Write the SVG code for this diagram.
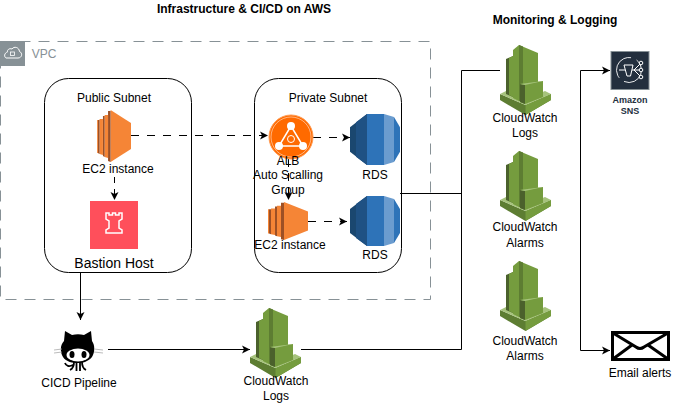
<svg xmlns="http://www.w3.org/2000/svg" xmlns:xlink="http://www.w3.org/1999/xlink" width="681" height="404" viewBox="0 0 681 404">
<style>
text{font-family:"Liberation Sans",Arial,sans-serif;font-size:12px;fill:#000;text-anchor:middle}
.b{font-weight:bold}
.line{fill:none;stroke:#000;stroke-width:1}
.dash{stroke-dasharray:8 8}
.sub{fill:#fff;stroke:#000;stroke-width:1}
</style>
<defs>
<marker id="arr" markerWidth="10" markerHeight="10" refX="8" refY="5" orient="auto" markerUnits="userSpaceOnUse"><path d="M0,1 L8,5 L0,9 L2,5 Z" fill="#000"/></marker>
<symbol id="cw" viewBox="0 0 51 70" preserveAspectRatio="none">
<path d="M0 49 L25.500 60 L51 49 V55 L25.500 70 L0 55Z" fill="#5d7d32"/>
<path d="M25.500 60 L51 49 V55 L25.500 70Z" fill="#759c3e"/>
<path d="M0 49 L6 46 L25.500 54 L45 46 L51 49 L25.500 60Z" fill="#a6c37c"/>
<path d="M6 14 L13 11 V52 L6 49Z" fill="#4b612c"/>
<path d="M9 13 L13 11 V52 L9 50Z" fill="#759c3e"/>
<path d="M13 5 L19 0 V56 L13 53Z" fill="#759c3e"/>
<path d="M19 0 L38 8 V38 L19 42Z" fill="#759c3e"/>
<path d="M13 5 L19 0 V20 L13 22Z" fill="#4b612c" opacity="0"/>
<path d="M19 0 V56 L23 56 V1.500Z" fill="#5d7d32"/>
<path d="M20 39 L43 36 V52 L25 59 L20 57Z" fill="#759c3e"/>
<path d="M20 39 L25 40 V59 L20 57Z" fill="#4b612c"/>
<path d="M25 40 L43 36 L20 39Z" fill="#a6c37c"/>
</symbol>
<symbol id="rds" viewBox="0 0 50 50" preserveAspectRatio="none">
<path d="M0 13 L17 0 V50 L0 37Z" fill="#1a476f"/>
<path d="M6 8 L17 0 V50 L6 42Z" fill="#1f5183"/>
<path d="M17 0 H34 V50 H17Z" fill="#2e73b8"/>
<path d="M34 0 L44 3 V47 L34 50Z" fill="#6b9ccf"/>
<path d="M44 3 L50 13 V37 L44 47Z" fill="#2e73b8"/>
</symbol>
<symbol id="ec2" viewBox="0 0 40 52" preserveAspectRatio="none">
<path d="M16 0 L40 13 V39 L16 52Z" fill="#f58536"/>
<path d="M13 1 H16 V52 L13 51Z" fill="#9d5025"/>
<path d="M9 5 H13 V48 L9 47Z" fill="#f58536"/>
<path d="M7 6 H9 V47 L7 46Z" fill="#9d5025"/>
<path d="M3 9 H7 V45 L3 44Z" fill="#f58536"/>
<path d="M1 10 H3 V44 L1 43Z" fill="#9d5025"/>
<path d="M0 10 H1 V43 H0Z" fill="#f58536"/>
</symbol>
</defs>
<text class="b" x="244" y="13">Infrastructure &amp; CI/CD on AWS</text>
<text class="b" x="555" y="24">Monitoring &amp; Logging</text>

<g id="vpc">
<rect x="0.500" y="41.500" width="430" height="258" fill="none" stroke="#879196" stroke-dasharray="11 8"/>
<rect x="0" y="41" width="25" height="25" fill="#879196"/>
<path d="M6 58 H18 C22 58 23 53 19.500 51.500 C19 47 14 46 12 49 C9 48 7 50 7.500 52 C4 53 4 57 6 58Z" fill="none" stroke="#fff"/>
<rect x="10.500" y="52" width="4" height="3.500" fill="none" stroke="#fff" stroke-width="0.800"/>
<text x="44" y="58" style="fill:#879196">VPC</text>
</g>
<g id="public-subnet"><rect class="sub" x="44.500" y="78.500" width="147" height="194" rx="24"/><text x="114" y="102">Public Subnet</text></g>
<g id="private-subnet"><rect class="sub" x="254.500" y="78.500" width="147" height="194" rx="24"/><text x="328" y="102">Private Subnet</text></g>

<g id="connectors">
<path class="line dash" d="M131 135.500 H268" marker-end="url(#arr)"/>
<path class="line dash" d="M313 137.500 H350" marker-end="url(#arr)"/>
<path class="line dash" d="M308 221.500 H347" marker-end="url(#arr)"/>
<path class="line" d="M288.500 159 V200" stroke-dasharray="8 6" marker-end="url(#arr)"/>
<path class="line" d="M114.500 177 V200" stroke-dasharray="6 6" marker-end="url(#arr)"/>
<path class="line" d="M80.500 272 V320" marker-end="url(#arr)"/>
<path class="line" d="M108 349.500 H250" marker-end="url(#arr)"/>
<path class="line" d="M301 349.500 H461.500 V70.500 H500"/>
<path class="line" d="M400 193.500 H461.500"/>
<path class="line" d="M580.500 350.500 V70.500 H610" marker-end="url(#arr)"/>
<path class="line" d="M580.500 350.500 H610" marker-end="url(#arr)"/>
</g>

<g id="ec2-public"><use xlink:href="#ec2" href="#ec2" x="97" y="110" width="34" height="52"/><text x="118" y="173">EC2 instance</text></g>
<g id="bastion"><rect x="90" y="201" width="48" height="48" fill="#ff4f5b"/>
<path d="M106 216 H109 V218 H112.500 V216 H115.500 V218 H119 V216 H122 V222 L119 224 V231 L122 233 V236 H106 V233 L109 231 V224 L106 222Z" fill="none" stroke="#fff" stroke-width="1.500" transform="translate(0 -3)"/>
<text x="114" y="268" style="font-size:14px">Bastion Host</text></g>
<g id="alb">
<circle cx="291" cy="137" r="22" fill="#ff6a00" stroke="#ff9a50"/><circle cx="291" cy="137" r="20" fill="#ff6a00" stroke="#fff" stroke-width="0.500"/>
<path d="M291 126 L279 146 H303Z" fill="none" stroke="#fff" stroke-width="1.500"/>
<circle cx="291" cy="126" r="4" fill="#fff"/><circle cx="279" cy="146" r="4" fill="#fff"/><circle cx="303" cy="146" r="4" fill="#fff"/>
<circle cx="291" cy="139" r="3.500" fill="none" stroke="#fff"/>
<text x="288" y="165">ALB</text><text x="288" y="179">Auto Scalling</text><text x="288" y="194">Group</text></g>
<g id="ec2-private"><use xlink:href="#ec2" href="#ec2" x="268" y="202" width="40" height="38"/><text x="290" y="249">EC2 instance</text></g>
<g id="rds-1"><use xlink:href="#rds" href="#rds" x="350" y="114" width="50" height="51"/><text x="375" y="179">RDS</text></g>
<g id="rds-2"><use xlink:href="#rds" href="#rds" x="350" y="196" width="50" height="50"/><text x="375" y="259">RDS</text></g>
<g id="github">
<path d="M65 331 L72 335 C76 334 80 334 84 335 L91 331 L92 341 C95 345 95 352 92 357 C88 362 82 363 78 363 C73 363 66 362 63 357 C60 352 60 345 64 341Z" fill="#000"/>
<ellipse cx="78" cy="355" rx="11.500" ry="6.500" fill="#fff"/>
<ellipse cx="72" cy="354.500" rx="2.500" ry="3.500" fill="#000"/><ellipse cx="84" cy="354.500" rx="2.500" ry="3.500" fill="#000"/>
<path d="M74 362 C74 366 72 369 70 370 M76.500 362 V371 M80 362 V371 M82 362 C82 366 84 369 86 370 M73 365 C69 367 66 366 65 363" fill="none" stroke="#000" stroke-width="1.800"/>
<path d="M54 350 L62 349 M54 353 L62 352 M94 349 L103 350 M94 352 L103 353" stroke="#aaa" stroke-width="0.800"/>
<text x="79" y="387">CICD Pipeline</text></g>
<g id="cw-bottom"><use xlink:href="#cw" href="#cw" x="250" y="308" width="51" height="70"/><text x="276" y="385">CloudWatch</text><text x="276" y="400">Logs</text></g>
<g id="cw-logs"><use xlink:href="#cw" href="#cw" x="500" y="45" width="51" height="70"/><text x="525" y="122">CloudWatch</text><text x="525" y="137">Logs</text></g>
<g id="cw-alarms-1"><use xlink:href="#cw" href="#cw" x="500" y="151" width="51" height="70"/><text x="525" y="231">CloudWatch</text><text x="525" y="247">Alarms</text></g>
<g id="cw-alarms-2"><use xlink:href="#cw" href="#cw" x="500" y="261" width="51" height="70"/><text x="525" y="345">CloudWatch</text><text x="525" y="360">Alarms</text></g>
<g id="sns"><rect x="611" y="51.500" width="38" height="38" fill="#232f3e" stroke="#879196"/>
<circle cx="629" cy="70" r="12.500" fill="none" stroke="#fff" stroke-width="0.800" stroke-dasharray="30 6" transform="rotate(-25 629 70)"/>
<path d="M619 70 H625 M632 70 H640 M634 70 L640 64 M634 70 L640 76" stroke="#fff" fill="none"/>
<path d="M624 65 H633 L630.500 76 H627Z" fill="none" stroke="#fff"/>
<circle cx="641" cy="63" r="1.800" fill="#232f3e" stroke="#fff"/><circle cx="641" cy="70" r="1.800" fill="#232f3e" stroke="#fff"/><circle cx="641" cy="77" r="1.800" fill="#232f3e" stroke="#fff"/>
<text class="b" x="630" y="103" style="font-size:9px;fill:#232f3e">Amazon</text><text class="b" x="630" y="114" style="font-size:9px;fill:#232f3e">SNS</text></g>
<g id="email"><rect x="612.500" y="332.500" width="56" height="27" fill="#fff" stroke="#000" stroke-width="3"/>
<path d="M613 333 L636 347 Q640 350 644 347 L668 333 M613 359 L632 345 M668 359 L648 345" fill="none" stroke="#000" stroke-width="3"/>
<text x="640" y="377">Email alerts</text></g>
</svg>
